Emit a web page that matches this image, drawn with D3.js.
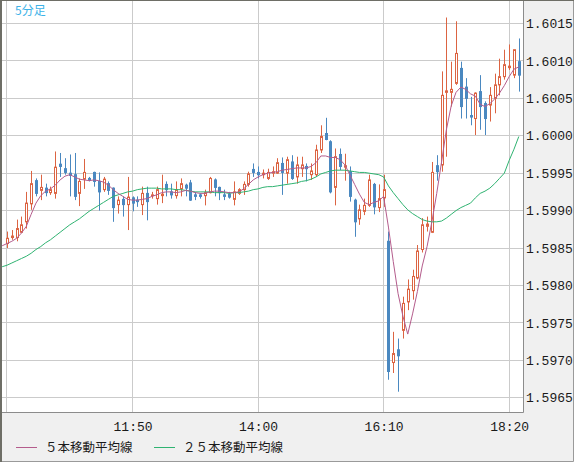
<!DOCTYPE html>
<html>
<head>
<meta charset="utf-8">
<script src="https://cdnjs.cloudflare.com/ajax/libs/d3/7.8.5/d3.min.js"></script>
<style>
  body { margin: 0; background: #ffffff; }
  .axis text { font-family: "Liberation Mono", "DejaVu Sans Mono", monospace; font-size: 13px; fill: #1a1a1a; }
  .legend text { font-family: "Noto Sans CJK JP", sans-serif; font-size: 12.5px; fill: #1a1a1a; }
</style>
</head>
<body>
<div class="chart"></div>
<script>
// Chart values
//= ================================
// 5 minute bars, first slot (09:35) only carries the moving averages
var times = [];
for (var m = 9 * 60 + 35; m <= 18 * 60 + 30; m += 5) {
  times.push(String(Math.floor(m / 60)).padStart(2, "0") + ":" + String(m % 60).padStart(2, "0"));
}

var openVals = [null,
  1.59856, 1.59864, 1.59864, 1.59871, 1.59885, 1.59909, 1.59940, 1.59927, 1.59930, 1.59924,
  1.59923, 1.59962, 1.59956, 1.59950, 1.59948, 1.59923, 1.59942, 1.59943, 1.59951, 1.59939,
  1.59928, 1.59936, 1.59930, 1.59908, 1.59915, 1.59908, 1.59917, 1.59914, 1.59908, 1.59923,
  1.59920, 1.59916, 1.59920, 1.59935, 1.59925, 1.59920, 1.59929, 1.59934, 1.59937, 1.59921,
  1.59921, 1.59920, 1.59924, 1.59941, 1.59931, 1.59921, 1.59922, 1.59915, 1.59923, 1.59928,
  1.59935, 1.59955, 1.59951, 1.59948, 1.59943, 1.59950, 1.59950, 1.59963, 1.59950, 1.59965,
  1.59945, 1.59956, 1.59959, 1.59948, 1.59948, 1.59981, 1.60003, 1.59992, 1.59931, 1.59975,
  1.59958, 1.59952, 1.59914, 1.59889, 1.59899, 1.59907, 1.59935, 1.59904, 1.59917, 1.59859,
  1.59697, 1.59714, 1.59740, 1.59778, 1.59793, 1.59810, 1.59848, 1.59879, 1.59871, 1.59960,
  1.59961, 1.60058, 1.60058, 1.60070, 1.60090, 1.60065, 1.60027, 1.60023, 1.60059, 1.60043,
  1.60041, 1.60050, 1.60068, 1.60079, 1.60091, 1.60081, 1.60099];

var highVals = [null,
  1.59872, 1.59874, 1.59888, 1.59892, 1.59925, 1.59953, 1.59943, 1.59948, 1.59936, 1.59932,
  1.59979, 1.59977, 1.59970, 1.59975, 1.59977, 1.59943, 1.59969, 1.59945, 1.59952, 1.59951,
  1.59945, 1.59939, 1.59931, 1.59919, 1.59919, 1.59945, 1.59919, 1.59919, 1.59932, 1.59932,
  1.59925, 1.59932, 1.59948, 1.59939, 1.59936, 1.59939, 1.59943, 1.59936, 1.59941, 1.59925,
  1.59923, 1.59928, 1.59945, 1.59943, 1.59932, 1.59928, 1.59925, 1.59939, 1.59930, 1.59939,
  1.59952, 1.59963, 1.59959, 1.59955, 1.59956, 1.59959, 1.59970, 1.59971, 1.59972, 1.59974,
  1.59972, 1.59972, 1.59963, 1.59963, 1.59988, 1.60014, 1.60024, 1.59994, 1.59983, 1.59983,
  1.59976, 1.59959, 1.59916, 1.59908, 1.59916, 1.59948, 1.59937, 1.59935, 1.59948, 1.59872,
  1.59738, 1.59729, 1.59785, 1.59808, 1.59821, 1.59854, 1.59890, 1.59892, 1.59965, 1.59974,
  1.60086, 1.60158, 1.60099, 1.60153, 1.60099, 1.60077, 1.60052, 1.60058, 1.60081, 1.60046,
  1.60065, 1.60083, 1.60103, 1.60115, 1.60122, 1.60115, 1.60130];

var lowVals = [null,
  1.59850, 1.59861, 1.59859, 1.59870, 1.59876, 1.59901, 1.59919, 1.59914, 1.59919, 1.59921,
  1.59916, 1.59945, 1.59948, 1.59919, 1.59914, 1.59906, 1.59929, 1.59939, 1.59932, 1.59900,
  1.59925, 1.59921, 1.59885, 1.59896, 1.59892, 1.59874, 1.59899, 1.59905, 1.59894, 1.59887,
  1.59916, 1.59908, 1.59910, 1.59919, 1.59916, 1.59916, 1.59919, 1.59919, 1.59913, 1.59914,
  1.59916, 1.59907, 1.59923, 1.59919, 1.59914, 1.59914, 1.59916, 1.59907, 1.59921, 1.59921,
  1.59932, 1.59945, 1.59943, 1.59943, 1.59941, 1.59945, 1.59949, 1.59921, 1.59936, 1.59941,
  1.59936, 1.59945, 1.59939, 1.59941, 1.59945, 1.59977, 1.59994, 1.59923, 1.59907, 1.59954,
  1.59940, 1.59912, 1.59865, 1.59881, 1.59894, 1.59905, 1.59895, 1.59898, 1.59905, 1.59674,
  1.59683, 1.59658, 1.59729, 1.59767, 1.59781, 1.59808, 1.59844, 1.59872, 1.59870, 1.59940,
  1.59952, 1.59972, 1.60039, 1.60068, 1.60023, 1.60023, 1.60014, 1.60001, 1.60008, 1.60001,
  1.60019, 1.60030, 1.60054, 1.60075, 1.60088, 1.60077, 1.60059];

var closeVals = [null,
  1.59863, 1.59866, 1.59876, 1.59881, 1.59910, 1.59936, 1.59923, 1.59931, 1.59924, 1.59928,
  1.59958, 1.59959, 1.59951, 1.59947, 1.59919, 1.59939, 1.59951, 1.59941, 1.59939, 1.59925,
  1.59942, 1.59927, 1.59904, 1.59914, 1.59908, 1.59918, 1.59910, 1.59912, 1.59923, 1.59912,
  1.59921, 1.59928, 1.59922, 1.59928, 1.59921, 1.59928, 1.59936, 1.59930, 1.59914, 1.59919,
  1.59919, 1.59924, 1.59943, 1.59931, 1.59924, 1.59919, 1.59918, 1.59925, 1.59928, 1.59935,
  1.59949, 1.59951, 1.59948, 1.59950, 1.59951, 1.59952, 1.59964, 1.59951, 1.59968, 1.59943,
  1.59961, 1.59961, 1.59956, 1.59953, 1.59981, 1.59999, 1.59995, 1.59925, 1.59972, 1.59959,
  1.59960, 1.59919, 1.59885, 1.59901, 1.59907, 1.59941, 1.59905, 1.59916, 1.59928, 1.59685,
  1.59709, 1.59706, 1.59776, 1.59795, 1.59812, 1.59846, 1.59881, 1.59882, 1.59951, 1.59952,
  1.60054, 1.60060, 1.60062, 1.60110, 1.60039, 1.60050, 1.60025, 1.60057, 1.60039, 1.60023,
  1.60054, 1.60068, 1.60079, 1.60095, 1.60093, 1.60115, 1.60081];

// 5 bar moving average
var ma5Vals = [1.59853,
  1.59856, 1.59859, 1.59863, 1.59870, 1.59879, 1.59895, 1.59910, 1.59920, 1.59926, 1.59929,
  1.59934, 1.59941, 1.59946, 1.59948, 1.59945, 1.59942, 1.59941, 1.59940, 1.59941, 1.59940,
  1.59938, 1.59934, 1.59928, 1.59923, 1.59919, 1.59915, 1.59914, 1.59914, 1.59915, 1.59916,
  1.59919, 1.59921, 1.59924, 1.59925, 1.59925, 1.59924, 1.59925, 1.59927, 1.59926, 1.59924,
  1.59923, 1.59923, 1.59925, 1.59926, 1.59926, 1.59925, 1.59924, 1.59924, 1.59925, 1.59929,
  1.59935, 1.59941, 1.59945, 1.59948, 1.59950, 1.59951, 1.59952, 1.59954, 1.59955, 1.59956,
  1.59957, 1.59957, 1.59957, 1.59959, 1.59964, 1.59973, 1.59973, 1.59971, 1.59971, 1.59968,
  1.59961, 1.59948, 1.59935, 1.59922, 1.59911, 1.59908, 1.59911, 1.59913, 1.59919, 1.59878,
  1.59832, 1.59789, 1.59759, 1.59735, 1.59762, 1.59792, 1.59826, 1.59852, 1.59885, 1.59923,
  1.59965, 1.60008, 1.60040, 1.60058, 1.60065, 1.60062, 1.60056, 1.60053, 1.60042, 1.60039,
  1.60043, 1.60049, 1.60057, 1.60067, 1.60079, 1.60089, 1.60092];

// 25 bar moving average
var ma25Vals = [1.59825,
  1.59827, 1.59830, 1.59833, 1.59836, 1.59839, 1.59843, 1.59848, 1.59852, 1.59857, 1.59861,
  1.59866, 1.59871, 1.59876, 1.59881, 1.59885, 1.59889, 1.59894, 1.59899, 1.59903, 1.59907,
  1.59911, 1.59915, 1.59919, 1.59921, 1.59923, 1.59925, 1.59926, 1.59928, 1.59929, 1.59930,
  1.59930, 1.59930, 1.59929, 1.59929, 1.59929, 1.59928, 1.59928, 1.59927, 1.59926, 1.59925,
  1.59925, 1.59925, 1.59925, 1.59924, 1.59924, 1.59924, 1.59923, 1.59924, 1.59924, 1.59925,
  1.59926, 1.59928, 1.59929, 1.59931, 1.59932, 1.59932, 1.59933, 1.59934, 1.59935, 1.59936,
  1.59937, 1.59939, 1.59940, 1.59942, 1.59945, 1.59949, 1.59951, 1.59953, 1.59954, 1.59954,
  1.59954, 1.59953, 1.59952, 1.59951, 1.59951, 1.59950, 1.59949, 1.59948, 1.59945, 1.59933,
  1.59924, 1.59916, 1.59908, 1.59901, 1.59896, 1.59892, 1.59888, 1.59886, 1.59885, 1.59885,
  1.59886, 1.59890, 1.59895, 1.59900, 1.59904, 1.59907, 1.59910, 1.59917, 1.59923, 1.59926,
  1.59930, 1.59936, 1.59943, 1.59950, 1.59967, 1.59982, 1.59999];

var gridTimes = ["09:40", "11:50", "14:00", "16:10", "18:20"];
var xTickLabels = ["11:50", "14:00", "16:10", "18:20"];
var yTicks = [1.5965, 1.5970, 1.5975, 1.5980, 1.5985, 1.5990, 1.5995, 1.6000, 1.6005, 1.6010, 1.6015];
var chartTitle = "5分足";
var legendNames = ["５本移動平均線", "２５本移動平均線"];

// Step 0: Set up our chart
//= ================================
var svgWidth = 574;
var svgHeight = 462;
var plot = { left: 2, top: 1, right: 523, bottom: 412 };

var upColor = "#dc6442";
var downColor = "#4a88c0";
var ma5Color = "#b45c8c";
var ma25Color = "#2fb371";
var gridColor = "#cbcbcb";

var svg = d3
  .select(".chart")
  .append("svg")
  .attr("width", svgWidth)
  .attr("height", svgHeight)
  .style("display", "block");

// panel background and plot area
svg.append("rect").attr("width", svgWidth).attr("height", svgHeight).attr("fill", "#f0f0f0");
svg
  .append("rect")
  .attr("x", plot.left)
  .attr("y", plot.top)
  .attr("width", plot.right - plot.left)
  .attr("height", plot.bottom - plot.top)
  .attr("fill", "#ffffff");

svg
  .append("defs")
  .append("clipPath")
  .attr("id", "plot-clip")
  .append("rect")
  .attr("x", plot.left)
  .attr("y", plot.top)
  .attr("width", plot.right - plot.left)
  .attr("height", plot.bottom - plot.top);

// Scales
var xScale = d3.scalePoint().domain(times).range([2.17, 518.8]);
var yScale = d3.scaleLinear().domain([1.5965, 1.6015]).range([397.7, 23.5]);

function crisp(v) {
  return Math.floor(v) + 0.5;
}

// Grid lines
var grid = svg.append("g").attr("clip-path", "url(#plot-clip)");
grid
  .selectAll(".hgrid")
  .data(yTicks)
  .enter()
  .append("line")
  .attr("x1", plot.left)
  .attr("x2", plot.right)
  .attr("y1", function(d) { return crisp(yScale(d)); })
  .attr("y2", function(d) { return crisp(yScale(d)); })
  .attr("stroke", gridColor);
grid
  .selectAll(".vgrid")
  .data(gridTimes)
  .enter()
  .append("line")
  .attr("y1", plot.top)
  .attr("y2", plot.bottom)
  .attr("x1", function(d) { return crisp(xScale(d)); })
  .attr("x2", function(d) { return crisp(xScale(d)); })
  .attr("stroke", gridColor);

// Candles
var bars = times
  .map(function(t, i) {
    return { t: t, o: openVals[i], h: highVals[i], l: lowVals[i], c: closeVals[i] };
  })
  .filter(function(d) { return d.o !== null; });

var chart = svg.append("g").attr("clip-path", "url(#plot-clip)");

var candle = chart
  .selectAll(".candle")
  .data(bars)
  .enter()
  .append("g")
  .attr("class", "candle");

candle
  .append("line")
  .attr("x1", function(d) { return Math.round(xScale(d.t)) + 0.5; })
  .attr("x2", function(d) { return Math.round(xScale(d.t)) + 0.5; })
  .attr("y1", function(d) { return yScale(d.h); })
  .attr("y2", function(d) { return yScale(d.l); })
  .attr("stroke", function(d) { return d.c >= d.o ? upColor : downColor; });

candle
  .append("rect")
  .attr("x", function(d) { return Math.round(xScale(d.t)) - 0.5; })
  .attr("width", 2)
  .attr("y", function(d) { return yScale(Math.max(d.o, d.c)); })
  .attr("height", function(d) { return Math.abs(yScale(d.o) - yScale(d.c)); })
  .attr("fill", function(d) { return d.c >= d.o ? "#ffffff" : downColor; })
  .attr("stroke", function(d) { return d.c >= d.o ? upColor : downColor; });

// Moving averages
var maLine = function(vals) {
  return d3
    .line()
    .x(function(d, i) { return xScale(times[i]); })
    .y(function(d) { return yScale(d); })(vals);
};

chart
  .append("path")
  .attr("d", maLine(ma25Vals))
  .attr("fill", "none")
  .attr("stroke", ma25Color)
  .attr("stroke-width", 1);

chart
  .append("path")
  .attr("d", maLine(ma5Vals))
  .attr("fill", "none")
  .attr("stroke", ma5Color)
  .attr("stroke-width", 1);

// Plot border
svg
  .append("path")
  .attr("d", "M" + (plot.right + 0.5) + "," + plot.top + "V" + (plot.bottom + 0.5) + "H" + plot.left)
  .attr("fill", "none")
  .attr("stroke", "#8c8c8c");

// Axes
var bottomAxis = d3.axisBottom(xScale).tickValues(xTickLabels).tickSize(0).tickPadding(10);
var rightAxis = d3
  .axisRight(yScale)
  .tickValues(yTicks)
  .tickFormat(d3.format(".4f"))
  .tickSize(0)
  .tickPadding(3);

svg
  .append("g")
  .attr("class", "axis")
  .attr("transform", "translate(0," + plot.bottom + ")")
  .call(bottomAxis)
  .call(function(g) { g.select(".domain").remove(); })
  .selectAll("text")
  .attr("font-family", null)
  .attr("font-size", null);

svg
  .append("g")
  .attr("class", "axis")
  .attr("transform", "translate(" + plot.right + ",0)")
  .call(rightAxis)
  .call(function(g) { g.select(".domain").remove(); })
  .selectAll("text")
  .attr("font-family", null)
  .attr("font-size", null);

// Title in the top left corner
svg
  .append("text")
  .attr("x", 15)
  .attr("y", 15)
  .attr("font-family", "Noto Sans CJK JP, sans-serif")
  .attr("font-size", 12)
  .attr("fill", "#3cb2e8")
  .text(chartTitle);

// Legend
var legend = svg.append("g").attr("class", "legend");
var legendX = [16, 154];
var legendColors = [ma5Color, ma25Color];
legendNames.forEach(function(name, i) {
  legend
    .append("line")
    .attr("x1", legendX[i])
    .attr("x2", legendX[i] + 21)
    .attr("y1", 447.5)
    .attr("y2", 447.5)
    .attr("stroke", legendColors[i]);
  legend
    .append("text")
    .attr("x", legendX[i] + 29)
    .attr("y", 452)
    .text(name);
});

// Outer frame
svg
  .append("path")
  .attr("d", "M1,462V0.5H574")
  .attr("fill", "none")
  .attr("stroke", "#6e6e66")
  .attr("stroke-width", 1);
svg.append("rect").attr("x", 0).attr("y", 0).attr("width", 2).attr("height", svgHeight).attr("fill", "#6e6e66");
svg
  .append("path")
  .attr("d", "M2," + (svgHeight - 0.5) + "H" + (svgWidth - 0.5) + "V1")
  .attr("fill", "none")
  .attr("stroke", "#9a9a9a");
</script>
</body>
</html>
